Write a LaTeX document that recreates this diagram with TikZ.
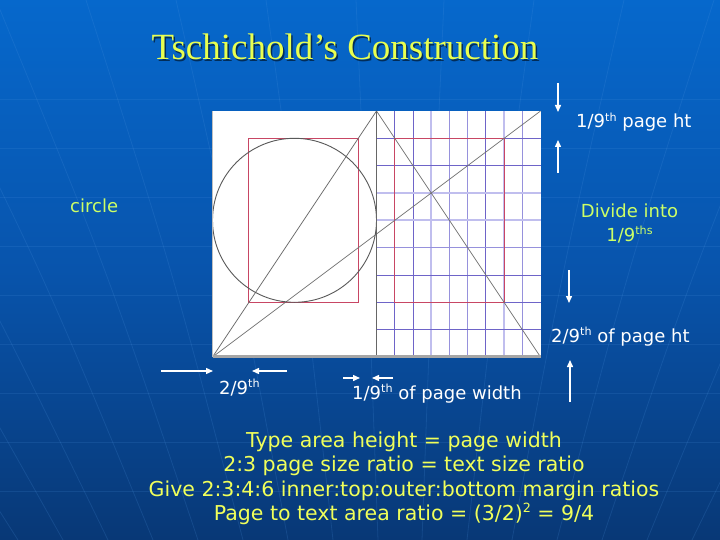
\documentclass[tikz,border=0pt]{standalone}
\usepackage{fontspec}
\usepackage{graphicx}
\setmainfont{DejaVu Sans}
\newfontfamily\titlefont{Liberation Serif}
\usetikzlibrary{arrows.meta}
\definecolor{bgtop}{RGB}{6,104,204}
\definecolor{bgmid}{RGB}{8,84,172}
\definecolor{bgbot}{RGB}{8,56,118}
\definecolor{ttlyel}{RGB}{232,255,80}
\definecolor{txtyel}{RGB}{240,255,90}
\definecolor{grnyel}{RGB}{204,255,102}
\definecolor{blockred}{RGB}{200,70,100}
\definecolor{gridthin}{RGB}{110,100,200}
\definecolor{gridmed}{RGB}{150,145,220}
\definecolor{gridthick}{RGB}{192,190,238}
\definecolor{diagcol}{RGB}{110,110,110}
\definecolor{globeline}{RGB}{80,150,225}
\newcommand\supr[1]{\raisebox{0.36em}{\scalebox{0.62}{#1}}}
\begin{document}
\begin{tikzpicture}[x=1pt,y=-1pt,
  lbl/.style={font=\fontsize{18}{21}\selectfont, inner sep=0pt, anchor=base west},
  bottomtxt/.style={font=\fontsize{20.5}{24}\selectfont, inner sep=0pt, anchor=base, text=txtyel},
  wharrow/.style={white, line width=1.4pt, -{Triangle[length=7pt,width=6pt]}},
  gthin/.style={gridthin, line width=0.8pt},
  gmed/.style={gridmed, line width=1.3pt},
  gthick/.style={gridthick, line width=1.8pt},
  diagline/.style={diagcol, line width=0.7pt},
  tblock/.style={blockred, line width=1pt}]
\useasboundingbox (0,0) rectangle (720,540);
% background
\shade[top color=bgtop, bottom color=bgbot, middle color=bgmid] (0,0) rectangle (720,540);
\begin{scope}
\clip (0,0) rectangle (720,540);
\foreach \d in {22,67,112,157,202,247,292,337,382,427}{
  \draw[globeline, opacity=0.18, line width=0.8pt] (400+2.0*\d,0) .. controls (400+1.45*\d,270) .. (400+\d,540);
  \draw[globeline, opacity=0.18, line width=0.8pt] (400-2.0*\d,0) .. controls (400-1.45*\d,270) .. (400-\d,540);
}
\foreach \yy in {99,148,197,246,295,344,393,442,491}{
  \draw[globeline, opacity=0.16, line width=0.6pt] (0,\yy) -- (720,\yy);
}
\end{scope}
% spread
\fill[white] (212.5,111) rectangle (540.5,357);
% grid on right page
\foreach \k in {3,7}{\draw[gthick] (376.5+\k*18.222,111) -- (376.5+\k*18.222,356);}
\foreach \k in {4,5,8}{\draw[gmed] (376.5+\k*18.222,111) -- (376.5+\k*18.222,356);}
\foreach \k in {1,2,6}{\draw[gthin] (376.5+\k*18.222,111) -- (376.5+\k*18.222,356);}
\foreach \k in {3,4}{\draw[gthick] (376.5,111+\k*27.333) -- (540.5,111+\k*27.333);}
\draw[gmed] (376.5,111+5*27.333) -- (540.5,111+5*27.333);
\foreach \k in {1,2,6,7,8}{\draw[gthin] (376.5,111+\k*27.333) -- (540.5,111+\k*27.333);}
% text blocks
\draw[tblock] (248.9,138.3) rectangle (358.3,302.3);
\draw[tblock] (394.7,138.3) rectangle (504.1,302.3);
% page corners
\coordinate (bl) at (212.5,357);
\coordinate (gt) at (376.5,111);
\coordinate (gb) at (376.5,357);
\coordinate (tr) at (540.5,111);
\coordinate (br) at (540.5,357);
\coordinate (tl) at (212.5,111);
\coordinate (cc) at (294.5,220.3);
% diagonals
\draw[diagline] (bl) -- (gt);
\draw[diagline] (bl) -- (tr);
\draw[diagline] (gt) -- (br);
% circle
\draw[black!65, line width=0.9pt] (cc) circle[radius=82];
% edges
\draw[black!60, line width=0.9pt] (gt) -- (gb);
\draw[black!25, line width=0.8pt] (bl) -- (tl);
\draw[black!35, line width=2.2pt] (212.5,356.5) -- (540.5,356.5);
% title
\node[font=\titlefont\fontsize{37}{40}\selectfont, text=black, opacity=0.55, anchor=base, inner sep=0pt] (titleshadow) at (346.5,61.5) {Tschichold’s Construction};
\node[font=\titlefont\fontsize{37}{40}\selectfont, text=ttlyel, anchor=base, inner sep=0pt] (title) at (345,60) {Tschichold’s Construction};
% labels
\node[lbl, text=white] (l19h) at (576,128) {1/9\supr{th} page ht};
\node[lbl, text=grnyel] (lcircle) at (70,212) {circle};
\node[lbl, text=grnyel, anchor=base] (ldiv) at (629.5,218) {Divide into};
\node[lbl, text=grnyel, anchor=base] (ldivb) at (629.5,241) {1/9\supr{ths}};
\node[lbl, text=white] (l29h) at (551,342) {2/9\supr{th} of page ht};
\node[lbl, text=white] (l29w) at (219,394) {2/9\supr{th}};
\node[lbl, text=white] (l19w) at (352,399) {1/9\supr{th} of page width};
% bottom text
\node[bottomtxt] (t1) at (404,447) {Type area height = page width};
\node[bottomtxt] (t2) at (404,471) {2:3 page size ratio = text size ratio};
\node[bottomtxt] (t3) at (404,496) {Give 2:3:4:6 inner:top:outer:bottom margin ratios};
\node[bottomtxt] (t4) at (404,520) {Page to text area ratio = (3/2)\supr{2} = 9/4};
% arrows
\coordinate (a1s) at (558,83);  \coordinate (a1e) at (558,112);
\coordinate (a2s) at (558,173); \coordinate (a2e) at (558,140);
\coordinate (a3s) at (569,270); \coordinate (a3e) at (569,303);
\coordinate (a4s) at (570,402); \coordinate (a4e) at (570,360);
\coordinate (a5s) at (161,371); \coordinate (a5e) at (213,371);
\coordinate (a6s) at (287,371); \coordinate (a6e) at (252,371);
\coordinate (a7s) at (343,378); \coordinate (a7e) at (360,378);
\coordinate (a8s) at (393,378); \coordinate (a8e) at (372,378);
\draw[wharrow] (a1s) -- (a1e);
\draw[wharrow] (a2s) -- (a2e);
\draw[wharrow] (a3s) -- (a3e);
\draw[wharrow] (a4s) -- (a4e);
\draw[wharrow] (a5s) -- (a5e);
\draw[wharrow] (a6s) -- (a6e);
\draw[wharrow] (a7s) -- (a7e);
\draw[wharrow] (a8s) -- (a8e);
\end{tikzpicture}
\end{document}
